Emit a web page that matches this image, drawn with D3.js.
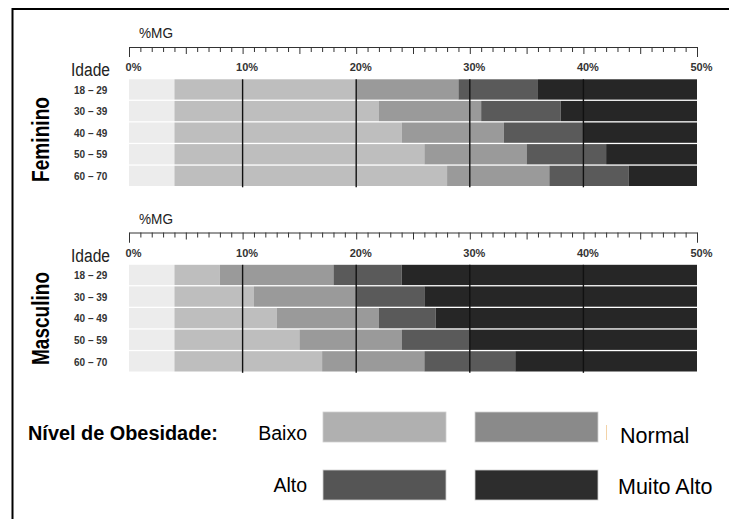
<!DOCTYPE html>
<html>
<head>
<meta charset="utf-8">
<script src="https://cdn.jsdelivr.net/npm/d3@7"></script>
<style>
  html, body { margin: 0; padding: 0; background: #fff; }
  svg { display: block; }
</style>
</head>
<body>
<svg id="chart" width="729" height="519"></svg>
<script>
// ---------- DATA ----------
const ages = ["18 – 29", "30 – 39", "40 – 49", "50 – 59", "60 – 70"];
const levels = ["Essencial", "Baixo", "Normal", "Alto", "Muito Alto"];
const legendLevels = ["Baixo", "Normal", "Alto", "Muito Alto"];
const tickLabels = ["0%", "10%", "20%", "30%", "40%", "50%"];
const gridValues = [10, 20, 30, 40];

// segment widths (%MG) per age group
const femEssencial = [4, 4, 4, 4, 4];
const femBaixo     = [16, 18, 20, 22, 24];
const femNormal    = [9, 9, 9, 9, 9];
const femAlto      = [7, 7, 7, 7, 7];
const femMuitoAlto = [14, 12, 10, 8, 6];

const mascEssencial = [4, 4, 4, 4, 4];
const mascBaixo     = [4, 7, 9, 11, 13];
const mascNormal    = [10, 9, 9, 9, 9];
const mascAlto      = [6, 6, 5, 6, 8];
const mascMuitoAlto = [26, 24, 23, 20, 16];

const panels = [
  { name: "Feminino",  series: [femEssencial, femBaixo, femNormal, femAlto, femMuitoAlto] },
  { name: "Masculino", series: [mascEssencial, mascBaixo, mascNormal, mascAlto, mascMuitoAlto] }
];

// ---------- STYLE ----------
const barColor = d3.scaleOrdinal().domain(levels)
  .range(["#ececec", "#bebebe", "#9a9a9a", "#5a5a5a", "#262626"]);
const legendColor = d3.scaleOrdinal().domain(legendLevels)
  .range(["#b0b0b0", "#8a8a8a", "#555555", "#2d2d2d"]);

const sans = "'Liberation Sans', Arial, sans-serif";

const svg = d3.select("#chart");

// frame
svg.append("rect")
  .attr("x", 12.5).attr("y", 9).attr("width", 800).attr("height", 600)
  .attr("fill", "none").attr("stroke", "#000").attr("stroke-width", 2);

const x = d3.scaleLinear().domain([0, 50]).range([129, 697]);

const panelOffsets = [0, 185.5];

panels.forEach((p, pi) => {
  const g = svg.append("g").attr("transform", `translate(0,${panelOffsets[pi]})`);

  const rows = ages.map((a, i) => {
    const r = { age: a };
    levels.forEach((l, li) => r[l] = p.series[li][i]);
    return r;
  });
  const stacked = d3.stack().keys(levels)(rows);

  const y = d3.scaleBand().domain(ages).range([79.3, 187.3]).padding(0);

  // axis
  const axis = d3.axisBottom(x)
    .tickValues(d3.range(0, 51, 1))
    .tickSizeOuter(10)
    .tickFormat(d => d % 10 === 0 ? tickLabels[d / 10] : "");
  const ag = g.append("g").attr("transform", "translate(0,47)").call(axis);
  ag.select(".domain").attr("stroke", "#333").attr("stroke-width", 1);
  ag.selectAll(".tick line")
    .attr("stroke", "#333")
    .attr("y2", d => (d === 0 || d === 50) ? 10 : (d % 5 === 0 ? 7 : 5));
  ag.selectAll(".tick text")
    .attr("y", 24).attr("dy", 0).attr("dx", 4)
    .attr("fill", "#333")
    .style("font-family", sans).style("font-weight", "bold").style("font-size", "11px");

  // %MG label
  g.append("text").attr("x", 139).attr("y", 38).text("%MG")
    .attr("textLength", 34).attr("lengthAdjust", "spacingAndGlyphs")
    .style("font-family", sans).style("font-size", "15.5px").attr("fill", "#222");
  // Idade
  g.append("text").attr("x", 71).attr("y", 76).text("Idade")
    .attr("textLength", 39).attr("lengthAdjust", "spacingAndGlyphs")
    .style("font-family", sans).style("font-size", "18px").attr("fill", "#222");

  // bars
  g.append("g").selectAll("g").data(stacked).join("g")
    .attr("fill", d => barColor(d.key))
    .selectAll("rect").data(d => d).join("rect")
    .attr("x", d => x(d[0]))
    .attr("width", d => x(d[1]) - x(d[0]))
    .attr("y", d => y(d.data.age))
    .attr("height", y.bandwidth() - 1.3);

  // grid lines
  g.append("g").selectAll("line").data(gridValues).join("line")
    .attr("x1", d => x(d)).attr("x2", d => x(d))
    .attr("y1", 79.3).attr("y2", 187.3)
    .attr("stroke", "#111").attr("stroke-width", 1.4);

  // age labels
  g.append("g").selectAll("text").data(ages).join("text")
    .attr("x", 74)
    .attr("y", d => y(d) + y.bandwidth() / 2 + 3.5)
    .text(d => d)
    .attr("fill", "#333")
    .style("font-family", sans).style("font-weight", "bold").style("font-size", "10px");

  // rotated group name
  g.append("text")
    .attr("transform", `translate(49,${pi === 0 ? 139.5 : 133}) rotate(-90)`)
    .attr("text-anchor", "middle")
    .text(p.name)
    .attr("textLength", pi === 0 ? 85 : 93).attr("lengthAdjust", "spacingAndGlyphs")
    .attr("fill", "#000")
    .style("font-family", sans).style("font-weight", "bold").style("font-size", "24px");
});

// ---------- LEGEND ----------
svg.append("text").attr("x", 28).attr("y", 440).text("Nível de Obesidade:")
  .attr("textLength", 190).attr("lengthAdjust", "spacingAndGlyphs")
  .style("font-family", sans).style("font-weight", "bold").style("font-size", "19.5px").attr("fill", "#000");

const legendItems = [
  { key: "Baixo", rx: 323, ry: 412, tx: 307, ty: 440, anchor: "end", fs: 19.5 },
  { key: "Normal", rx: 475, ry: 412, tx: 620, ty: 443, anchor: "start", fs: 21.5 },
  { key: "Alto", rx: 323, ry: 470, tx: 307, ty: 492, anchor: "end", fs: 19.5 },
  { key: "Muito Alto", rx: 475, ry: 470, tx: 618, ty: 494, anchor: "start", fs: 21.5 }
];
const lg = svg.append("g").selectAll("g").data(legendItems).join("g");
lg.append("rect")
  .attr("x", d => d.rx).attr("y", d => d.ry).attr("width", 123).attr("height", 30)
  .attr("fill", d => legendColor(d.key))
  .attr("stroke", "#d0d0d0").attr("stroke-width", 0.8);
lg.append("text")
  .attr("x", d => d.tx).attr("y", d => d.ty)
  .attr("text-anchor", d => d.anchor)
  .text(d => d.key)
  .style("font-family", sans).style("font-size", d => d.fs + "px").attr("fill", "#000");

// small artifact mark near Normal
svg.append("line").attr("x1", 606.5).attr("x2", 606.5).attr("y1", 425).attr("y2", 440)
  .attr("stroke", "#f3d3a8").attr("stroke-width", 1);
</script>
</body>
</html>
